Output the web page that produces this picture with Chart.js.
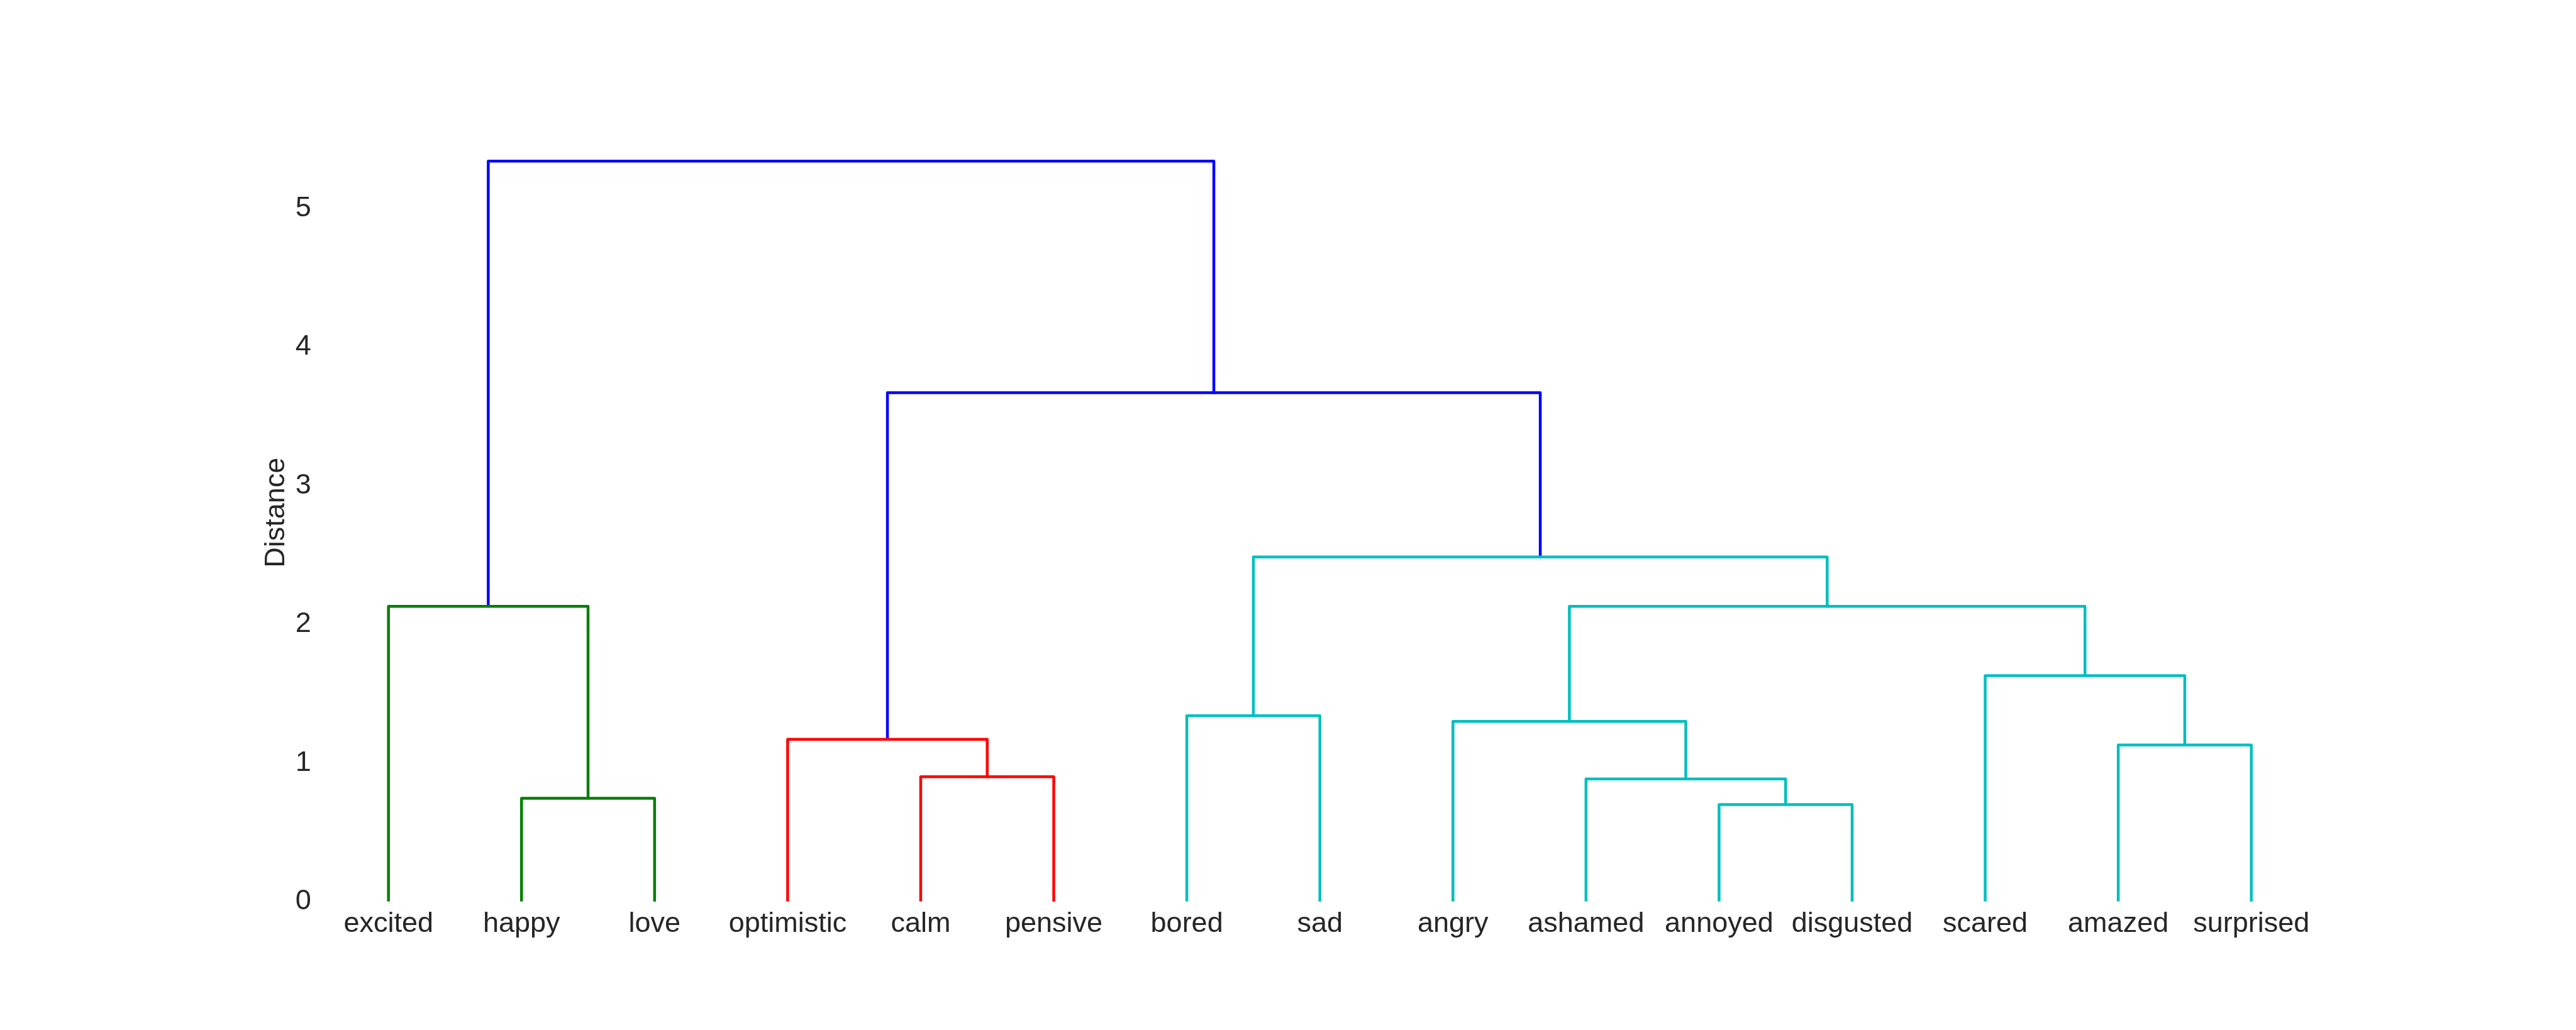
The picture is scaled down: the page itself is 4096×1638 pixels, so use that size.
<!DOCTYPE html>
<html><head><meta charset="utf-8">
<script src="https://cdn.jsdelivr.net/npm/chart.js@4.4.1/dist/chart.umd.min.js"></script>
<style>html,body{margin:0;padding:0;background:#fff;overflow:hidden}</style>
</head><body>
<canvas id="c" width="4096" height="1638" style="display:block;width:4096px;height:1638px"></canvas>
<script>
// Leaves in dendrogram order
const leafNames = ['excited','happy','love','optimistic','calm','pensive','bored','sad','angry','ashamed','annoyed','disgusted','scared','amazed','surprised'];
// Linkage (nodes 0..14 are leaves, merge k creates node 15+k)
const mergeLeft     = [10, 1, 9, 4, 13, 3, 8, 6, 12, 0, 21, 22, 20, 24];
const mergeRight    = [11, 2, 15, 5, 14, 18, 17, 7, 19, 16, 23, 25, 26, 27];
const mergeDistance = [0.70, 0.745, 0.885, 0.90, 1.13, 1.17, 1.30, 1.34, 1.63, 2.13, 2.13, 2.485, 3.67, 5.34];
const mergeCluster  = ['c','g','c','r','c','r','c','c','c','g','c','c','b','b'];
const yTicks = [0, 1, 2, 3, 4, 5];

const clusterColors = {g:'#008000', r:'#ff0000', c:'#00bfbf', b:'#0000ff'};

// leaf positions like scipy: 5, 15, 25, ...
const nodeX = leafNames.map((_, i) => 5 + 10 * i);
const nodeH = leafNames.map(() => 0);
const datasets = [];
mergeLeft.forEach((l, k) => {
  const r = mergeRight[k], d = mergeDistance[k];
  datasets.push({
    data: [{x: nodeX[l], y: nodeH[l]}, {x: nodeX[l], y: d}, {x: nodeX[r], y: d}, {x: nodeX[r], y: nodeH[r]}],
    borderColor: clusterColors[mergeCluster[k]],
    backgroundColor: clusterColors[mergeCluster[k]],
    borderWidth: 4.5,
    showLine: true,
    pointRadius: 0,
    pointHoverRadius: 0,
    fill: false,
    tension: 0,
    borderJoinStyle: 'round'
  });
  nodeX.push((nodeX[l] + nodeX[r]) / 2);
  nodeH.push(d);
});
const leafPos = leafNames.map((_, i) => nodeX[i]);

const FONT = {family: '"Liberation Sans", Arial, sans-serif', size: 45};
const TXT = '#262626';

new Chart(document.getElementById('c'), {
  type: 'scatter',
  data: {datasets},
  options: {
    responsive: false,
    animation: false,
    devicePixelRatio: 1,
    layout: {padding: {left: 0, right: 410.5, top: 196.8, bottom: 0}},
    plugins: {legend: {display: false}, tooltip: {enabled: false}},
    scales: {
      x: {
        type: 'linear', min: 0, max: 150,
        grid: {display: false, drawTicks: false},
        border: {display: false},
        afterBuildTicks: s => { s.ticks = leafPos.map(v => ({value: v})); },
        afterFit: s => { s.height = 204.2; },
        ticks: {
          autoSkip: false, maxRotation: 0, minRotation: 0, padding: 8.7,
          color: TXT, font: FONT,
          callback: (v, i) => leafNames[i]
        }
      },
      y: {
        type: 'linear', min: 0, max: 5.61,
        grid: {display: false, drawTicks: false},
        border: {display: false},
        afterBuildTicks: s => { s.ticks = yTicks.map(v => ({value: v})); },
        afterFit: s => { s.width = 511.9; },
        ticks: {padding: 17.2, color: TXT, font: FONT, callback: v => String(v)},
        title: {display: true, text: 'Distance', color: TXT, font: FONT, padding: {top: 413, bottom: 0}}
      }
    }
  }
});
</script>
</body></html>
